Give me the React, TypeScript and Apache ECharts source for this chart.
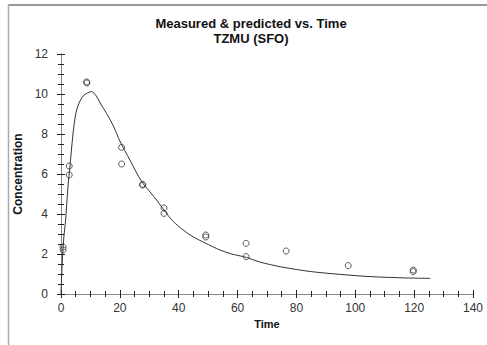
import React, { useEffect, useRef } from "react";
import * as echarts from "echarts";

const titleLines = ["Measured & predicted vs. Time", "TZMU (SFO)"];
const xName = "Time";
const yName = "Concentration";

const measuredTime = [0.7, 0.7, 2.8, 2.8, 8.7, 8.8, 20.6, 20.6, 27.7, 27.8, 35, 35, 49.2, 49.2, 62.9, 62.9, 76.5, 97.6, 119.7, 119.7];
const measuredConc = [2.35, 2.2, 6.4, 5.95, 10.6, 10.55, 7.33, 6.5, 5.48, 5.45, 4.3, 4.03, 2.95, 2.85, 2.53, 1.87, 2.15, 1.42, 1.2, 1.12];

const predTime = [0, 0.3, 0.7, 1, 1.5, 2, 2.5, 3, 4, 5, 6, 7.5, 9, 10.4, 12, 13.5, 15.5, 17.8, 20, 23.4, 27.4, 30, 33, 35, 38, 41.5, 45, 49, 54, 58, 63, 67.5, 75, 85, 95, 105, 118, 125.5];
const predConc = [0, 1.2, 2.3, 2.9, 3.6, 4.6, 5.6, 6.3, 7.9, 9.0, 9.5, 9.9, 10.05, 10.12, 9.9, 9.5, 9.03, 8.4, 7.65, 6.7, 5.62, 5.15, 4.6, 4.2, 3.65, 3.2, 2.85, 2.55, 2.2, 2.0, 1.83, 1.6, 1.35, 1.12, 0.98, 0.87, 0.8, 0.78];

const FONT = "Liberation Sans, Arial, sans-serif";
const AXIS_GRAY = "#8a8a8a";
const TICK = "#222";

export default function App() {
  const ref = useRef<HTMLDivElement>(null);
  useEffect(() => {
    if (!ref.current) return;
    const chart = echarts.init(ref.current, null, { renderer: "svg" });
    const baseX = { type: "value", min: 0, max: 140, interval: 20 };
    const baseY = { type: "value", min: 0, max: 12, interval: 2 };
    chart.setOption({
      animation: false,
      backgroundColor: "#fff",
      grid: { left: 61, right: 14, top: 54, bottom: 51, containLabel: false },
      graphic: [
        { type: "line", shape: { x1: 8, y1: 5, x2: 487, y2: 5 }, style: { stroke: "#999", lineWidth: 2 } },
        { type: "line", shape: { x1: 8.5, y1: 4, x2: 8.5, y2: 345 }, style: { stroke: "#aaa", lineWidth: 1.5 } },
        { type: "text", x: 251, y: 23, style: { text: titleLines[0], font: `bold 13px ${FONT}`, fill: "#111", align: "center", verticalAlign: "middle" } },
        { type: "text", x: 251, y: 38, style: { text: titleLines[1], font: `bold 13px ${FONT}`, fill: "#111", align: "center", verticalAlign: "middle" } },
      ],
      xAxis: [
        {
          ...baseX,
          position: "bottom",
          name: xName,
          nameLocation: "middle",
          nameGap: 23,
          nameTextStyle: { fontFamily: FONT, fontWeight: "bold", fontSize: 11, color: "#111" },
          axisLine: { show: true, lineStyle: { color: AXIS_GRAY, width: 1 } },
          axisTick: { show: true, inside: true, length: 4, lineStyle: { color: TICK } },
          minorTick: { show: true, splitNumber: 4, length: 3, lineStyle: { color: TICK } },
          axisLabel: { show: true, margin: 8, fontFamily: FONT, fontSize: 12, color: "#333" },
          splitLine: { show: false },
        },
        {
          ...baseX,
          position: "bottom",
          axisLine: { show: false },
          axisTick: { show: true, inside: false, length: 4, lineStyle: { color: TICK } },
          axisLabel: { show: false },
          splitLine: { show: false },
        },
        {
          ...baseX,
          position: "top",
          axisLine: { show: true, lineStyle: { color: AXIS_GRAY, width: 1 } },
          axisTick: { show: true, inside: true, length: 4, lineStyle: { color: TICK } },
          minorTick: { show: true, splitNumber: 4, length: 3, lineStyle: { color: TICK } },
          axisLabel: { show: false },
          splitLine: { show: false },
        },
      ],
      yAxis: [
        {
          ...baseY,
          position: "left",
          name: yName,
          nameLocation: "middle",
          nameGap: 31,
          nameRotate: 90,
          nameTextStyle: { fontFamily: FONT, fontWeight: "bold", fontSize: 12, color: "#111" },
          axisLine: { show: true, lineStyle: { color: AXIS_GRAY, width: 1 } },
          axisTick: { show: true, inside: true, length: 4, lineStyle: { color: TICK } },
          minorTick: { show: true, splitNumber: 4, length: 3, lineStyle: { color: TICK } },
          axisLabel: { show: true, margin: 13, fontFamily: FONT, fontSize: 12, color: "#333" },
          splitLine: { show: false },
        },
        {
          ...baseY,
          position: "left",
          axisLine: { show: false },
          axisTick: { show: true, inside: false, length: 4, lineStyle: { color: TICK } },
          axisLabel: { show: false },
          splitLine: { show: false },
        },
        {
          ...baseY,
          position: "right",
          axisLine: { show: true, lineStyle: { color: AXIS_GRAY, width: 1 } },
          axisTick: { show: true, inside: true, length: 4, lineStyle: { color: TICK } },
          minorTick: { show: true, splitNumber: 4, length: 3, lineStyle: { color: TICK } },
          axisLabel: { show: false },
          splitLine: { show: false },
        },
      ],
      series: [
        {
          type: "line",
          xAxisIndex: 0,
          yAxisIndex: 0,
          data: predTime.map((t, i) => [t, predConc[i]]),
          showSymbol: false,
          smooth: 0.3,
          lineStyle: { color: "#333", width: 1 },
          z: 2,
        },
        {
          type: "scatter",
          xAxisIndex: 0,
          yAxisIndex: 0,
          data: measuredTime.map((t, i) => [t, measuredConc[i]]),
          symbol: "circle",
          symbolSize: 6,
          itemStyle: { color: "rgba(0,0,0,0)", borderColor: "#333", borderWidth: 1 },
          z: 3,
        },
      ],
    });
    return () => chart.dispose();
  }, []);
  return <div ref={ref} style={{ width: 487, height: 345, position: "absolute", left: 0, top: 0 }} />;
}
